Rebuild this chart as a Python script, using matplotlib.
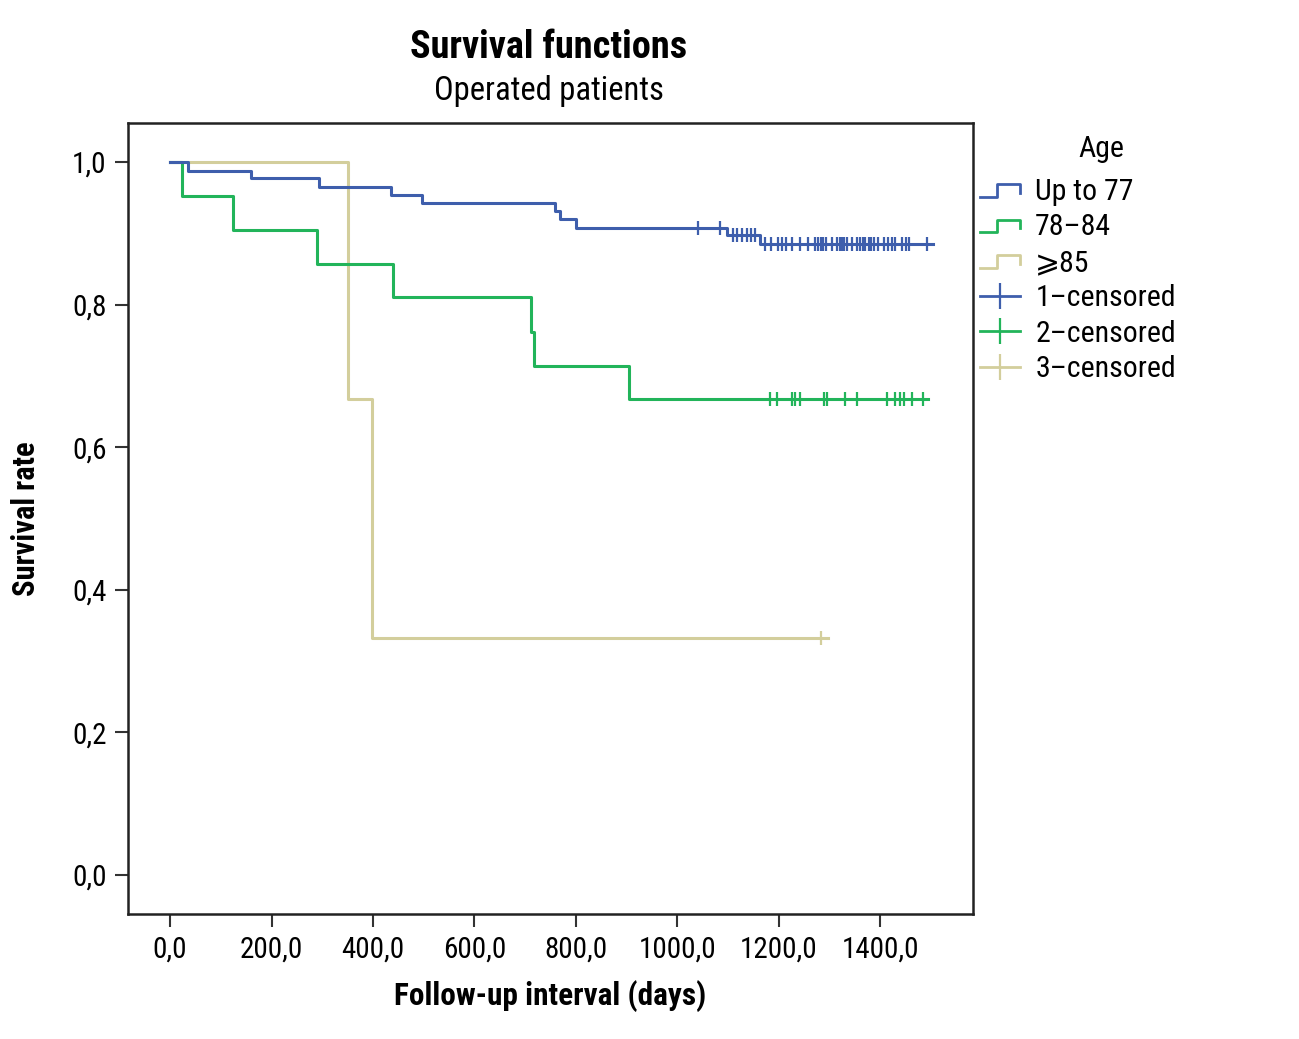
import matplotlib
matplotlib.use("Agg")
import matplotlib.pyplot as plt
from matplotlib.lines import Line2D
from matplotlib.legend_handler import HandlerBase

plt.rcParams['font.family'] = ['Roboto Condensed', 'Roboto', 'DejaVu Sans']

# ---- data ----
# Up to 77
blue_t = [0, 35, 159, 294, 436, 496, 759, 768, 801, 1098, 1164, 1505]
blue_s = [1.0, 0.988, 0.977, 0.965, 0.954, 0.943, 0.931, 0.920, 0.908, 0.897, 0.885, 0.885]
blue_cens = [1041, 1085, 1110, 1118, 1128, 1138, 1146, 1154, 1172, 1184, 1198, 1206,
             1215, 1227, 1242, 1257, 1272, 1278, 1283, 1288, 1294, 1305, 1315, 1320,
             1325, 1329, 1334, 1344, 1355, 1361, 1366, 1371, 1377, 1382, 1388, 1395,
             1407, 1415, 1423, 1430, 1443, 1450, 1456, 1492]
# 78-84
green_t = [0, 23, 124, 289, 439, 711, 718, 904, 1495]
green_s = [1.0, 0.952, 0.905, 0.857, 0.810, 0.762, 0.714, 0.667, 0.667]
green_cens = [1183, 1196, 1226, 1232, 1242, 1290, 1296, 1331, 1354, 1413, 1430,
              1440, 1447, 1463, 1484]
# >=85
tan_t = [0, 351, 398, 1298]
tan_s = [1.0, 0.667, 0.333, 0.333]
tan_cens = [1283]

xticks = [0, 200, 400, 600, 800, 1000, 1200, 1400]
xticklabels = ["0,0", "200,0", "400,0", "600,0", "800,0", "1000,0", "1200,0", "1400,0"]
yticks = [0.0, 0.2, 0.4, 0.6, 0.8, 1.0]
yticklabels = ["0,0", "0,2", "0,4", "0,6", "0,8", "1,0"]

BLUE = '#3E5EAC'
GREEN = '#22B45A'
TAN = '#D3CE9C'


def surv_at(ts, ss, x):
    v = ss[0]
    for t, s in zip(ts, ss):
        if t <= x:
            v = s
    return v


fig = plt.figure(figsize=(12.99, 10.39), dpi=100)
ax = fig.add_axes([128 / 1299, 1 - 914 / 1039, (973 - 128) / 1299, (914 - 123) / 1039])

for ts, ss, cens, col, lw in [(tan_t, tan_s, tan_cens, TAN, 2.2),
                              (green_t, green_s, green_cens, GREEN, 2.2),
                              (blue_t, blue_s, blue_cens, BLUE, 2.2)]:
    ax.step(ts, ss, where='post', color=col, lw=lw, zorder=3)
    ax.plot(cens, [surv_at(ts, ss, c) for c in cens], ls='none', marker='|',
            ms=10, mew=1.6, color=col, zorder=4)

ax.set_xlim(-83, 1583)
ax.set_ylim(-0.0547, 1.0547)
ax.set_xticks(xticks)
ax.set_xticklabels(xticklabels)
ax.set_yticks(yticks)
ax.set_yticklabels(yticklabels)
ax.tick_params(axis='both', direction='out', length=9.5, width=1.5, labelsize=21,
               color='#333333', pad=6)
for sp in ax.spines.values():
    sp.set_linewidth(1.8)
    sp.set_color('#222222')

ax.set_xlabel("Follow-up interval (days)", fontsize=22.5, fontweight='bold')
ax.set_ylabel("Survival rate", fontsize=22, fontweight='bold')
ax.xaxis.set_label_coords(0.5, (914 - 996) / 791)
ax.xaxis.label.set_va('center')
ax.yaxis.set_label_coords((26 - 128) / 845, 0.5)
ax.yaxis.label.set_va('center')

fig.text(549 / 1299, 1 - 47 / 1039, "Survival functions", ha='center', va='center',
         fontsize=27.5, fontweight='bold')
fig.text(549 / 1299, 1 - 91 / 1039, "Operated patients", ha='center', va='center',
         fontsize=23.5)
fig.text(1101 / 1299, 1 - 149 / 1039, "Age", ha='center', va='center', fontsize=21.5)


class StepHandler(HandlerBase):
    def create_artists(self, legend, orig_handle, xdescent, ydescent, width, height,
                       fontsize, trans):
        x0 = -xdescent
        y0 = -ydescent
        xs = [x0, x0 + 0.42 * width, x0 + 0.42 * width, x0 + width, x0 + width]
        ys = [y0 + 0.15 * height, y0 + 0.15 * height, y0 + 0.75 * height,
              y0 + 0.75 * height, y0 + 0.35 * height]
        ln = Line2D(xs, ys, color=orig_handle.get_color(), lw=2, transform=trans)
        return [ln]


h_blue = Line2D([], [], color=BLUE)
h_green = Line2D([], [], color=GREEN)
h_tan = Line2D([], [], color=TAN)
c_blue = Line2D([], [], color=BLUE, marker='|', ms=19, mew=1.6, lw=2)
c_green = Line2D([], [], color=GREEN, marker='|', ms=19, mew=1.6, lw=2)
c_tan = Line2D([], [], color=TAN, marker='|', ms=19, mew=1.6, lw=2)

leg = fig.legend([h_blue, h_green, h_tan, c_blue, c_green, c_tan],
                 ["Up to 77", "78\u201384", "\u2a7e85", "1\u2013censored",
                  "2\u2013censored", "3\u2013censored"],
                 handler_map={h_blue: StepHandler(), h_green: StepHandler(),
                              h_tan: StepHandler()},
                 loc='upper left',
                 bbox_to_anchor=(977 / 1299, 1 - 175 / 1039),
                 frameon=False, fontsize=21.5,
                 handlelength=1.35, handletextpad=0.5, labelspacing=0.25,
                 borderaxespad=0, borderpad=0.1)

fig.savefig("out.png", dpi=100, facecolor='white')
